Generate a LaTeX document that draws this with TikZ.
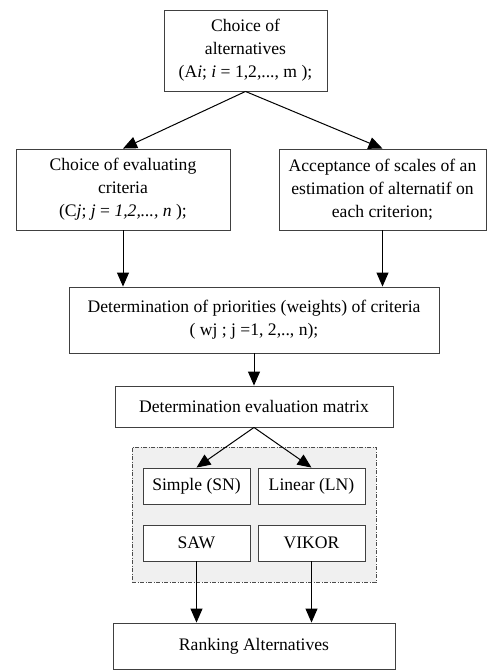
\documentclass[tikz,border=0pt]{standalone}
\usepackage{fontspec}
\setmainfont{Liberation Serif}
\usetikzlibrary{arrows.meta}
\begin{document}
\begin{tikzpicture}[x=1pt,y=-1pt,
  box/.style={draw=black!75, line width=0.9pt, fill=white, inner sep=0pt, align=center,
    font=\fontsize{17.6}{23}\selectfont},
  arr/.style={line width=1pt, -{Triangle[length=14pt,width=12pt]}},
  grp/.style={draw=black!70, line width=0.7pt, dash pattern=on 4pt off 1.5pt on 1pt off 1.5pt, fill=black!6}]
\useasboundingbox (0,0) rectangle (487,670);
\node[box, minimum width=163pt, minimum height=81pt] (top) at (245.5,50.5)
  {Choice of\\alternatives\\(A\textit{i}; \textit{i} = 1,2,..., m );};
\node[box, minimum width=214pt, minimum height=81pt] (left) at (123,189.5)
  {Choice of evaluating\\criteria\\(C\textit{j}; \textit{j} = \textit{1,2,..., n} );};
\node[box, minimum width=207pt, minimum height=81pt] (right) at (382.5,189.5)
  {Acceptance of scales of an\\estimation of alternatif on\\each criterion;};
\node[box, minimum width=370pt, minimum height=66pt] (prio) at (254,320)
  {Determination of priorities (weights) of criteria\\( wj ; j =1, 2,.., n);};
\node[box, minimum width=278pt, minimum height=41pt] (matrix) at (254,406.5)
  {Determination evaluation matrix};
\node[grp, minimum width=244pt, minimum height=135pt, inner sep=0pt] (group) at (254,514.5) {};
\node[box, minimum width=107pt, minimum height=36pt] (simple) at (196.5,486) {Simple (SN)};
\node[box, minimum width=107pt, minimum height=36pt] (linear) at (311.5,486) {Linear (LN)};
\node[box, minimum width=107pt, minimum height=36pt] (saw) at (196.5,543) {SAW};
\node[box, minimum width=107pt, minimum height=36pt] (vikor) at (311.5,543) {VIKOR};
\node[box, minimum width=282pt, minimum height=46.5pt] (rank) at (254,646.25) {Ranking Alternatives};
\draw[arr] (top.south) -- (left.north);
\draw[arr] (top.south) -- (right.north);
\draw[arr] (left.south) -- (left.south |- prio.north);
\draw[arr] (right.south) -- (right.south |- prio.north);
\draw[arr] (prio.south) -- (matrix.north);
\draw[arr] (matrix.south) -- (simple.north);
\draw[arr] (matrix.south) -- (linear.north);
\draw[arr] (saw.south) -- (saw.south |- rank.north);
\draw[arr] (vikor.south) -- (vikor.south |- rank.north);
\end{tikzpicture}
\end{document}
